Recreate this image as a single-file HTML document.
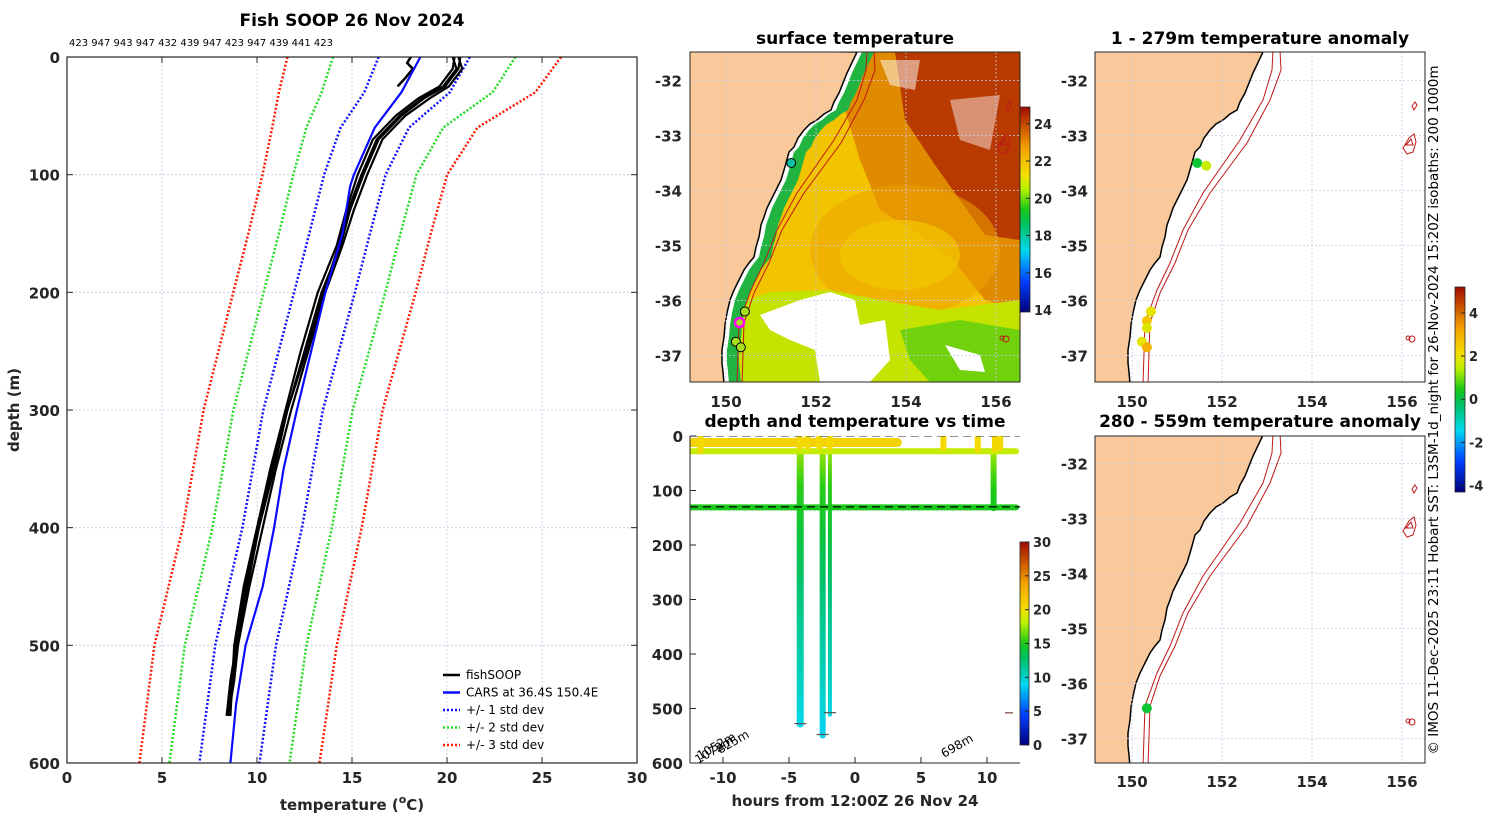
<!DOCTYPE html>
<html><head><meta charset="utf-8">
<style>
html,body{margin:0;padding:0;background:#fff;}
svg{display:block;font-family:"DejaVu Sans","Liberation Sans",sans-serif;}
.tk{font-size:15px;font-weight:bold;fill:#262626;}
.ttl{font-size:17px;font-weight:bold;fill:#000;}
</style></head>
<body>
<svg id="fig" width="1500" height="820" viewBox="0 0 1500 820" xmlns="http://www.w3.org/2000/svg">
<defs>
  <linearGradient id="cbgrad" x1="0" y1="1" x2="0" y2="0">
    <stop offset="0" stop-color="#00007f"/><stop offset="0.15" stop-color="#0040ff"/>
    <stop offset="0.3" stop-color="#00d8f0"/><stop offset="0.43" stop-color="#00c060"/>
    <stop offset="0.5" stop-color="#18c818"/><stop offset="0.6" stop-color="#b8f000"/>
    <stop offset="0.67" stop-color="#f4e000"/><stop offset="0.8" stop-color="#f4a000"/>
    <stop offset="1" stop-color="#a00c00"/>
  </linearGradient>
  <clipPath id="clipL"><rect x="67" y="57" width="570" height="706"/></clipPath>
  <clipPath id="clipM"><rect x="690" y="52" width="330" height="330"/></clipPath>
  <clipPath id="clipR1"><rect x="1095" y="52" width="330" height="330"/></clipPath>
  <clipPath id="clipR2"><rect x="1095" y="436" width="330" height="327"/></clipPath>
  <clipPath id="clipB"><rect x="690" y="436" width="330" height="327"/></clipPath>
</defs>

<g id="profile">
  <text class="ttl" x="352" y="26" text-anchor="middle">Fish SOOP 26 Nov 2024</text>
  <text x="69" y="46" font-size="10" fill="#000">423 947 943 947 432 439 947 423 947 439 441 423</text>
  <g id="pgrid"></g>
  <g id="pmarks" clip-path="url(#clipL)"></g>
  <rect x="67" y="57" width="570" height="706" fill="none" stroke="#262626" stroke-width="1.2"/>
  <g id="paxes"></g>
  <text class="tk" x="352" y="810" text-anchor="middle" font-size="16">temperature (<tspan font-size="11" dy="-7">o</tspan><tspan dy="7">C)</tspan></text>
  <text class="tk" x="19" y="410" text-anchor="middle" font-size="16" transform="rotate(-90 19 410)">depth (m)</text>
  <g id="plegend"></g>
</g>

<g id="sstmap">
  <text class="ttl" x="855" y="44" text-anchor="middle" font-size="16">surface temperature</text>
  <g clip-path="url(#clipM)" id="sstbody">
    <rect x="690" y="52" width="330" height="330" fill="#f2c400"/>
    <polygon points="850,52 1020,52 1020,310 985,300 955,262 915,232 880,210 860,160 845,110" fill="#e08a00"/>
    <polygon points="895,52 1020,52 1020,240 985,235 960,200 935,165 905,120" fill="#b83a00"/>
    <ellipse cx="905" cy="250" rx="95" ry="65" fill="#eda400" opacity="0.55"/>
    <ellipse cx="900" cy="255" rx="60" ry="35" fill="#f2c800" opacity="0.7"/>
    <polygon points="735,305 770,292 830,290 880,300 940,310 1020,300 1020,382 735,382" fill="#c4e400"/>
    <polygon points="900,330 960,320 1020,330 1020,382 930,382 910,360" fill="#5ccc10" opacity="0.8"/>
    <polygon points="800,300 830,292 855,300 860,325 885,320 890,360 870,382 820,382 815,350 790,340 770,330 760,315" fill="#ffffff"/>
    <polygon points="945,345 980,355 985,372 960,370" fill="#ffffff"/>
    <polygon points="880,60 920,60 915,90 890,85" fill="#ffffff" opacity="0.5"/>
    <polygon points="950,100 1000,95 990,150 960,140" fill="#ffffff" opacity="0.45"/>
    <polygon id="coastgreen" fill="#22b440"/>
    <polygon id="coastwhite" fill="#ffffff"/>
    <g id="mapM"></g>
  </g>
  <rect x="690" y="52" width="330" height="330" fill="none" stroke="#262626" stroke-width="1"/>
  <rect x="1020" y="107" width="10" height="205" fill="url(#cbgrad)" stroke="#262626" stroke-width="0.8"/>
  <g id="sstcb"></g>
</g>

<g>
  <text class="ttl" x="1260" y="44" text-anchor="middle" font-size="16">1 - 279m temperature anomaly</text>
  <g clip-path="url(#clipR1)"><rect x="1095" y="52" width="330" height="330" fill="#fff"/><g id="mapR1"></g></g>
  <rect x="1095" y="52" width="330" height="330" fill="none" stroke="#262626" stroke-width="1"/>
</g>
<g>
  <text class="ttl" x="1260" y="427" text-anchor="middle" font-size="16">280 - 559m temperature anomaly</text>
  <g clip-path="url(#clipR2)"><rect x="1095" y="436" width="330" height="327" fill="#fff"/><g id="mapR2"></g></g>
  <rect x="1095" y="436" width="330" height="327" fill="none" stroke="#262626" stroke-width="1"/>
</g>
<rect x="1455" y="287" width="10" height="205" fill="url(#cbgrad)" stroke="#262626" stroke-width="0.8"/>
<g id="anomcb"></g>
<text x="1438" y="410" font-size="13.5" fill="#000" text-anchor="middle" transform="rotate(-90 1438 410)">© IMOS 11-Dec-2025 23:11 Hobart SST: L3SM-1d_night for 26-Nov-2024 15:20Z isobaths: 200  1000m</text>

<g id="dtchart">
  <g id="maplbl"></g>
  <text class="ttl" x="855" y="427" text-anchor="middle" font-size="16">depth and temperature vs time</text>
  <g id="dtmarks" clip-path="url(#clipB)"></g>
  <line x1="690" y1="436" x2="690" y2="763" stroke="#262626" stroke-width="1"/>
  <line x1="690" y1="763" x2="1020" y2="763" stroke="#262626" stroke-width="1"/>
  <g id="dtaxes"></g>
  <text class="tk" x="855" y="806" text-anchor="middle" font-size="16">hours from 12:00Z 26 Nov 24</text>
  <text x="700" y="760" font-size="12" fill="#000" transform="rotate(-30 700 760)">1052m</text>
  <text x="698" y="764" font-size="12" fill="#000" transform="rotate(-30 698 764)">1072m</text>
  <text x="720" y="754" font-size="12" fill="#000" transform="rotate(-30 720 754)">825m</text>
  <text x="944" y="758" font-size="12" fill="#000" transform="rotate(-30 944 758)">698m</text>
  <rect x="1020" y="542" width="9" height="203" fill="url(#cbgrad)" stroke="#262626" stroke-width="0.8"/>
  <g id="dtcb"></g>
</g>

<script>
const climDepth = [0, 30, 60, 100, 150, 200, 300, 400, 500, 600];
const climMean  = [18.8, 17.9, 16.2, 15.15, 14.35, 13.55, 11.9, 10.8, 9.4, 8.55];
const climSd    = [2.4, 2.25, 1.8, 1.62, 1.6, 1.6, 1.57, 1.57, 1.6, 1.58];
const carsDepth = [0, 30, 60, 100, 110, 150, 200, 300, 350, 400, 450, 500, 550, 600];
const carsTemp  = [18.6, 17.6, 16.2, 15.1, 14.9, 14.5, 13.6, 12.1, 11.4, 10.9, 10.3, 9.4, 8.9, 8.6];
const fishDepth = [0, 10, 25, 35, 50, 70, 100, 130, 160, 200, 250, 300, 350, 400, 450, 500, 530, 560];
const fishA = [20.7, 20.6, 19.9, 18.8, 17.6, 16.4, 15.6, 14.9, 14.4, 13.4, 12.5, 11.6, 10.8, 10.1, 9.5, 8.9, 8.6, 8.4];
const fishB = [20.4, 20.3, 19.6, 18.5, 17.3, 16.1, 15.3, 14.7, 14.2, 13.2, 12.3, 11.5, 10.7, 10.0, 9.3, 8.8, 8.7, 8.5];
const fishC = [20.6, 20.8, 20.1, 19.1, 17.8, 16.6, 15.8, 15.1, 14.5, 13.6, 12.7, 11.8, 11.0, 10.3, 9.6, 9.0, 8.8, 8.5];
const fishD = [20.3, 20.5, 19.8, 18.7, 17.5, 16.3, 15.5, 14.8, 14.3, 13.5, 12.6, 11.6, 10.9, 10.1, 9.4, 8.9, 8.7, 8.6];
const fishShortDepth = [0, 5, 10, 18, 25];
const fishShortTemp  = [18.1, 17.9, 18.2, 17.8, 17.4];
const pXTicks = [0, 5, 10, 15, 20, 25, 30];
const pYTicks = [0, 100, 200, 300, 400, 500, 600];

const NS = "http://www.w3.org/2000/svg";
function mk(tag, attrs, parent) {
  const e = document.createElementNS(NS, tag);
  for (const k in attrs) e.setAttribute(k, attrs[k]);
  if (parent) parent.appendChild(e);
  return e;
}
const px = t => 67 + (t - 0) / 30 * 570;
const py = d => 57 + d / 600 * 706;

const pgrid = document.getElementById('pgrid');
const paxes = document.getElementById('paxes');
pXTicks.forEach(t => {
  const g = mk('line', {x1: px(t), x2: px(t), y1: 57, y2: 763, stroke: '#c9cbe6', 'stroke-width': 0.8, 'stroke-dasharray': '2 2'}, pgrid);
  
  
  mk('line', {x1: px(t), x2: px(t), y1: 763, y2: 757, stroke: '#262626'}, paxes);
  mk('line', {x1: px(t), x2: px(t), y1: 57, y2: 63, stroke: '#262626'}, paxes);
  const l = mk('text', {x: px(t), y: 783, class: 'tk', 'text-anchor': 'middle'}, paxes);
  l.textContent = t;
  
  
});
pYTicks.forEach(d => {
  const g = mk('line', {x1: 67, x2: 637, y1: py(d), y2: py(d), stroke: '#c9cbe6', 'stroke-width': 0.8, 'stroke-dasharray': '2 2'}, pgrid);
  
  
  mk('line', {x1: 67, x2: 73, y1: py(d), y2: py(d), stroke: '#262626'}, paxes);
  mk('line', {x1: 631, x2: 637, y1: py(d), y2: py(d), stroke: '#262626'}, paxes);
  const l = mk('text', {x: 60, y: py(d) + 6, class: 'tk', 'text-anchor': 'end'}, paxes);
  l.textContent = d;
  
  
});

const pm = document.getElementById('pmarks');
function pline(depths, temps, color, width, dash, name) {
  const pts = depths.map((d, i) => px(temps[i]).toFixed(1) + ',' + py(d).toFixed(1)).join(' ');
  const e = mk('polyline', {points: pts, fill: 'none', stroke: color, 'stroke-width': width, 'stroke-linejoin': 'round'}, pm);
  if (dash) e.setAttribute('stroke-dasharray', dash);
  
  
}
[[3, '#ff1a00', 'std3'], [2, '#22dd22', 'std2'], [1, '#1010ff', 'std1']].forEach(([k, c, n]) => {
  pline(climDepth, climMean.map((m, i) => m - k * climSd[i]), c, 2.5, '2 2', n + '-lower-line');
  pline(climDepth, climMean.map((m, i) => m + k * climSd[i]), c, 2.5, '2 2', n + '-upper-line');
});
[fishA, fishB, fishC, fishD].forEach((f, i) => pline(fishDepth, f, '#000', 2.2, null, 'fishsoop-profile-' + (i + 1)));
pline(fishShortDepth, fishShortTemp, '#000', 2.5, null, 'fishsoop-short-profile');
pline(carsDepth, carsTemp, '#0a0aff', 2.2, null, 'cars-line');

const leg = document.getElementById('plegend');
const legItems = [['fishSOOP', '#000', null], ['CARS at 36.4S 150.4E', '#0a0aff', null], ['+/- 1 std dev', '#1010ff', '2 2'], ['+/- 2 std dev', '#22dd22', '2 2'], ['+/- 3 std dev', '#ff1a00', '2 2']];
legItems.forEach((it, i) => {
  const y = 675 + i * 17.5;
  const ln = mk('line', {x1: 443, x2: 460, y1: y, y2: y, stroke: it[1], 'stroke-width': 2.5}, leg);
  if (it[2]) ln.setAttribute('stroke-dasharray', it[2]);
  
  
  const t = mk('text', {x: 466, y: y + 4, 'font-size': 12, fill: '#000'}, leg);
  t.textContent = it[0];
  
  
});

const coast = [[1263,52],[1253,73],[1245,93],[1240,102],[1237,110],[1230,114],[1223,120],[1216,124],[1210,130],[1204,138],[1200,147],[1195,152],[1192,163],[1190,170],[1187,180],[1182,190],[1177,200],[1173,208],[1170,217],[1167,225],[1165,237],[1162,247],[1160,257],[1155,263],[1150,270],[1145,280],[1140,290],[1136,300],[1133,313],[1131,325],[1130,337],[1128,350],[1128,363],[1129,372],[1130,384]];
const iso1 = [[1273,50],[1272,70],[1263,100],[1240,140],[1203,193],[1183,230],[1170,263],[1157,290],[1145,323],[1143,384]];
const iso2 = [[1280,50],[1281,70],[1270,100],[1247,143],[1210,193],[1188,230],[1175,263],[1160,293],[1150,323],[1148,384]];
const lonTicks = [150, 152, 154, 156];
const latTicks = [-32, -33, -34, -35, -36, -37];
const dotLon1 = [151.45, 151.65, 150.42, 150.33, 150.33, 150.22, 150.33];
const dotLat1 = [-33.5, -33.55, -36.2, -36.37, -36.5, -36.75, -36.85];
const dotVal1 = [0.2, 1.6, 1.9, 2.6, 1.8, 1.9, 3.0];
const dotLon2 = [150.33];
const dotLat2 = [-36.45];
const dotVal2 = [0.2];
const sstLon = [151.45, 150.42, 150.3, 150.22, 150.33];
const sstLat = [-33.5, -36.2, -36.4, -36.75, -36.85];

function lonX(lon, dx) { return 1132 + (lon - 150) * 45 + dx; }
function latY(lat, dy) { return 80.5 + (-32 - lat) * 55 + dy; }
function jet(t) {
  const st = [[0,[0,0,127]],[0.15,[0,64,255]],[0.3,[0,216,240]],[0.43,[0,192,96]],[0.5,[24,200,24]],[0.6,[184,240,0]],[0.67,[244,224,0]],[0.8,[244,160,0]],[1,[160,12,0]]];
  t = Math.max(0, Math.min(1, t));
  for (let i = 1; i < st.length; i++) if (t <= st[i][0]) {
    const f = (t - st[i-1][0]) / (st[i][0] - st[i-1][0]);
    const c = st[i-1][1].map((v, j) => Math.round(v + f * (st[i][1][j] - v)));
    return 'rgb(' + c.join(',') + ')';
  }
  return 'rgb(160,12,0)';
}
function ptsStr(arr, dx, dy) { return arr.map(p => (p[0] + dx) + ',' + (p[1] + dy)).join(' '); }

function drawMap(gid, dx, dy) {
  const g = document.getElementById(gid);
  const landPts = [[1090, 50]].concat(coast).concat([[1090, 386]]);
  const lp = mk('polygon', {points: ptsStr(landPts, dx, dy), fill: '#f9c99b', stroke: '#000', 'stroke-width': 1.5}, g);
  
  
  lonTicks.forEach(l => { mk('line', {x1: lonX(l, dx), x2: lonX(l, dx), y1: 52 + dy, y2: 385 + dy, stroke: '#c9cbe6', 'stroke-width': 0.8, 'stroke-dasharray': '2 2'}, g); });
  latTicks.forEach(l => { mk('line', {x1: 1095 + dx, x2: 1425 + dx, y1: latY(l, dy), y2: latY(l, dy), stroke: '#c9cbe6', 'stroke-width': 0.8, 'stroke-dasharray': '2 2'}, g); });
  [iso1, iso2].forEach(iso => {
    const e = mk('polyline', {points: ptsStr(iso, dx, dy), fill: 'none', stroke: '#c01818', 'stroke-width': 1}, g);
    
    
  });
  mk('path', {d: `M${1412+dx},${106+dy} l3,-4 l2,3 l-3,5 z`, fill: 'none', stroke: '#c01818'}, g);
  mk('path', {d: `M${1403+dx},${148+dy} l6,-10 l5,-4 l2,8 l-3,10 l-6,2 z M${1406+dx},${145+dy} l5,-6 l2,6 z`, fill: 'none', stroke: '#c01818'}, g);
  mk('circle', {cx: 1412 + dx, cy: 339 + dy, r: 3, fill: 'none', stroke: '#c01818'}, g);
  mk('circle', {cx: 1408 + dx, cy: 338 + dy, r: 2, fill: 'none', stroke: '#c01818'}, g);
}
drawMap('mapR1', 0, 0);
drawMap('mapR2', 0, 383);
drawMap('mapM', -406, 0);

(function(){
  const strip = coast.map(p => [p[0] - 406, p[1]]).concat(coast.slice().reverse().map(p => [p[0] - 406 + 17, p[1]]));
  document.getElementById('coastgreen').setAttribute('points', ptsStr(strip, 0, 0));
  const w = coast.map(p => [p[0] - 406, p[1]]).concat(coast.slice().reverse().map(p => [p[0] - 406 + 5, p[1]]));
  document.getElementById('coastwhite').setAttribute('points', ptsStr(w, 0, 0));
  const g = document.getElementById('mapM');
  g.parentNode.appendChild(g);
})();

const anomMin = -4.3, anomMax = 5.2;
function anomDots(gid, lons, lats, vals, dy) {
  const g = document.getElementById(gid);
  lons.forEach((lon, i) => {
    const c = mk('circle', {cx: lonX(lon, 0), cy: latY(lats[i], dy), r: 5, fill: jet((vals[i] - anomMin) / (anomMax - anomMin))}, g);
    
    
  });
}
anomDots('mapR1', dotLon1, dotLat1, dotVal1, 0);
anomDots('mapR2', dotLon2, dotLat2, dotVal2, 383);
(function(){
  const g = document.getElementById('mapM');
  sstLon.forEach((lon, i) => {
    const c = mk('circle', {cx: lonX(lon, -406), cy: latY(sstLat[i], 0), r: 4.5, fill: i === 0 ? '#10c0a0' : '#a8e020', stroke: i === 2 ? '#ff00ff' : '#000', 'stroke-width': i === 2 ? 2.5 : 1}, g);
    
    
  });
})();

function mapLabels(dx, dy, lonY) {
  const g = document.getElementById('maplbl');
  latTicks.forEach(l => {
    const t = mk('text', {x: 1088 + dx, y: latY(l, dy) + 6, class: 'tk', 'text-anchor': 'end'}, g);
    t.textContent = l;
    
    
  });
  lonTicks.forEach(l => {
    const t = mk('text', {x: lonX(l, dx), y: lonY, class: 'tk', 'text-anchor': 'middle'}, g);
    t.textContent = l;
    
    
  });
}
mapLabels(-406, 0, 407);
mapLabels(0, 0, 407);
mapLabels(0, 383, 787);
document.getElementById('dtchart').insertBefore(document.getElementById('maplbl'), document.getElementById('dtchart').firstChild);

function cbTicks(gid, x, yTop, yBot, vmin, vmax, ticks) {
  const g = document.getElementById(gid);
  ticks.forEach(v => {
    const y = yBot - (v - vmin) / (vmax - vmin) * (yBot - yTop);
    mk('line', {x1: x, x2: x + 4, y1: y, y2: y, stroke: '#262626'}, g);
    const t = mk('text', {x: x + 8, y: y + 5, 'font-size': 13, 'font-weight': 'bold', fill: '#262626'}, g);
    t.textContent = v;
    
    
  });
}
cbTicks('sstcb', 1026, 107, 312, 13.9, 24.9, [14, 16, 18, 20, 22, 24]);
cbTicks('anomcb', 1461, 287, 492, -4.3, 5.2, [-4, -2, 0, 2, 4]);
cbTicks('dtcb', 1025, 542, 745, 0, 30, [0, 5, 10, 15, 20, 25, 30]);

const towStart = [-12.3, -12.5, -12.5];
const towEnd   = [3.2, 12.2, 12.2];
const towDepth = [12, 28, 131];
const towTemp  = [21, 18.5, 15];
const spikeHour  = [-11.7, -4.2, -3.6, -2.7, -1.9, 6.7, 9.3, 10.6, 11.0];
const spikeDepth = [28, 20, 20, 20, 20, 22, 25, 25, 22];
const diveHour  = [-4.15, -2.45, -1.9, 10.5];
const diveDepth = [535, 555, 515, 138];
const diveWidth = [7, 6, 4, 6];
const dtXTicks = [-10, -5, 0, 5, 10];
const dtYTicks = [0, 100, 200, 300, 400, 500, 600];
const hx = h => 855 + h * 13.2;
const dy_ = d => 436 + d * 327 / 600;
const tempAtDepth = d => {
  for (let i = 1; i < carsDepth.length; i++) if (d <= carsDepth[i]) {
    const f = (d - carsDepth[i-1]) / (carsDepth[i] - carsDepth[i-1]);
    return carsTemp[i-1] + f * (carsTemp[i] - carsTemp[i-1]);
  }
  return carsTemp[carsTemp.length - 1];
};
(function(){
  const g = document.getElementById('dtmarks');
  const defs = document.querySelector('defs');
  diveHour.forEach((h, i) => {
    const gid = 'dg' + i;
    const lg = mk('linearGradient', {id: gid, x1: 0, y1: 0, x2: 0, y2: 1, gradientUnits: 'userSpaceOnUse'}, defs);
    lg.setAttribute('y1', dy_(0)); lg.setAttribute('y2', dy_(diveDepth[i]));
    for (let k = 0; k <= 6; k++) {
      const d = diveDepth[i] * k / 6;
      mk('stop', {offset: k / 6, 'stop-color': jet(tempAtDepth(d) / 30)}, lg);
    }
    const w = diveWidth[i], x0 = hx(h), yb = dy_(diveDepth[i]), yt = dy_(25);
    const r = mk('rect', {x: x0 - w / 2, y: yt, width: w, height: yb - yt, rx: w / 2, fill: 'url(#' + gid + ')'}, g);
    
    
    mk('line', {x1: x0 - 6, x2: x0 + 6, y1: yb - 4, y2: yb - 4, stroke: '#555', 'stroke-width': 1.2}, g);
  });
  towStart.forEach((s, i) => {
    const l = mk('line', {x1: hx(s), x2: hx(towEnd[i]), y1: dy_(towDepth[i]), y2: dy_(towDepth[i]), stroke: jet(towTemp[i] / 30), 'stroke-width': i === 0 ? 9 : 6, 'stroke-linecap': 'round'}, g);
    
    
  });
  spikeHour.forEach((h, i) => {
    const l = mk('line', {x1: hx(h), x2: hx(h), y1: dy_(2), y2: dy_(spikeDepth[i]), stroke: jet(20.5 / 30), 'stroke-width': 6, 'stroke-linecap': 'round'}, g);
    
    
  });
  [0, 130].forEach(d => mk('line', {x1: 690, x2: 1020, y1: dy_(d), y2: dy_(d), stroke: d ? '#000' : '#555', 'stroke-width': 1.2, 'stroke-dasharray': '8 5'}, g));
  mk('line', {x1: 1005, x2: 1013, y1: dy_(508), y2: dy_(508), stroke: '#8a6a5a', 'stroke-width': 1.5}, g);
  const ax = document.getElementById('dtaxes');
  dtXTicks.forEach(h => {
    mk('line', {x1: hx(h), x2: hx(h), y1: 763, y2: 757, stroke: '#262626'}, ax);
    const t = mk('text', {x: hx(h), y: 783, class: 'tk', 'text-anchor': 'middle'}, ax);
    t.textContent = h;
    
    
  });
  dtYTicks.forEach(d => {
    mk('line', {x1: 690, x2: 696, y1: dy_(d), y2: dy_(d), stroke: '#262626'}, ax);
    const t = mk('text', {x: 683, y: dy_(d) + 6, class: 'tk', 'text-anchor': 'end'}, ax);
    t.textContent = d;
    
    
  });
})();
</script>
</svg>
</body></html>
